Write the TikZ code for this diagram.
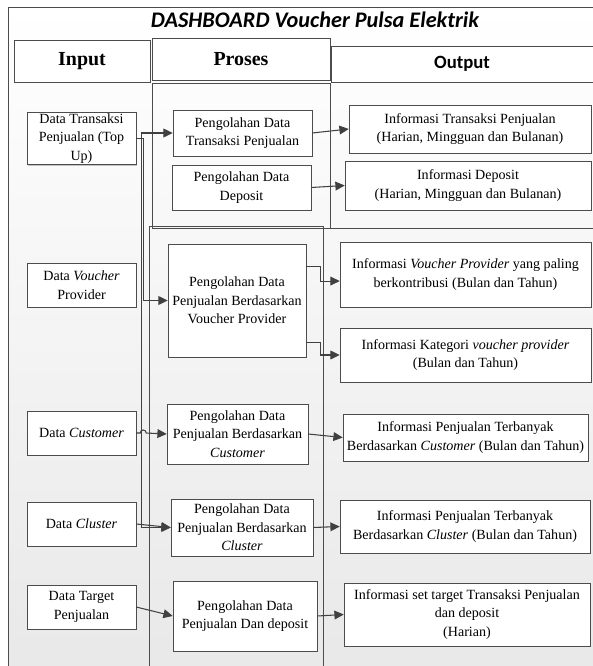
\documentclass[tikz,border=0pt]{standalone}
\usepackage{fontspec}
\setmainfont{Liberation Serif}
\newfontfamily\carlito{Carlito}
\usetikzlibrary{arrows.meta,calc,shadows}
\newcommand{\px}{0.03cm}
\tikzset{
  box/.style={draw=black!70, fill=white, align=center, inner sep=1pt,
    font=\fontsize{12}{15.8}\selectfont,
    drop shadow={shadow xshift=1.2pt, shadow yshift=-1.2pt, fill=black!45, opacity=0.5}},
  head/.style={draw=black!70, fill=white,
    drop shadow={shadow xshift=1.2pt, shadow yshift=-1.2pt, fill=black!45, opacity=0.5}},
  panel/.style={draw=black!70, line width=0.6pt},
  arr/.style={draw=black!75, line width=0.9pt, -{Triangle[length=8pt,width=7.5pt]}},
}
\begin{document}
\begin{tikzpicture}[x=0.03cm,y=-0.03cm]
\useasboundingbox (0,0) rectangle (593,666);

%%%Frame, background and title
\shade[top color=white,bottom color=black!9] (8,7) rectangle (600,680);
\draw[panel] (8,7) rectangle (600,680);
\node[draw=none,font=\carlito\bfseries\itshape\fontsize{19}{22}\selectfont] (title) at (315,20) {DASHBOARD Voucher Pulsa Elektrik};

%%%Column heads
\node[head, minimum width=136*\px, minimum height=42*\px, font=\bfseries\fontsize{17}{20}\selectfont] (hinput) at (82,61) {Input};
\node[head, minimum width=178*\px, minimum height=42*\px, font=\bfseries\fontsize{17}{20}\selectfont] (hproses) at (241,59) {Proses};
\node[head, minimum width=262*\px, minimum height=36*\px, font=\carlito\bfseries\fontsize{16}{19}\selectfont] (houtput) at (462,64) {Output};

%%%Proses panels
\draw[panel] (152,83) rectangle (330,228);
\draw[panel] (330,228) -- (600,228);
\draw[panel] (149,226) rectangle (323,680);

%%%Input
\begin{scope}
%Data boxes
\foreach \n/\y/\t in {dtrans/138.5/{Data Transaksi\\Penjualan (Top\\Up)},dvouch/285/{Data \textit{Voucher}\\Provider},dcust/433/{Data \textit{Customer}},dclust/524/{Data \textit{Cluster}},dtarget/607/{Data Target\\Penjualan}}
  \node[box, minimum width=109*\px, minimum height=44*\px] (\n) at (81.5,\y) {\t};
\end{scope}

%%%Proses
\begin{scope}
%Pengolahan boxes
\foreach \n/\x/\y/\w/\h/\t in {ptrans/242.5/133/139/46/{Pengolahan Data\\Transaksi Penjualan},pdepo/241.5/187.5/139/45/{Pengolahan Data\\Deposit},pvouch/237/300.5/138/113/{Pengolahan Data\\Penjualan Berdasarkan\\Voucher Provider},pcust/237.5/434/141/60/{Pengolahan Data\\Penjualan Berdasarkan\\\textit{Customer}},pclust/242/527.5/142/57/{Pengolahan Data\\Penjualan Berdasarkan\\\textit{Cluster}},ptarget/245/616/144/70/{Pengolahan Data\\Penjualan Dan deposit}}
  \node[box, minimum width=\w*\px, minimum height=\h*\px] (\n) at (\x,\y) {\t};
\end{scope}

%%%Output
\begin{scope}
%Informasi boxes
\foreach \n/\x/\y/\w/\h/\t in {otrans/470/129/242/48/{Informasi Transaksi Penjualan\\(Harian, Mingguan dan Bulanan)},odepo/468/185.5/246/49/{Informasi Deposit\\(Harian, Mingguan dan Bulanan)},ovouch/465.5/274.5/251/65/{Informasi \textit{Voucher Provider} yang paling\\berkontribusi (Bulan dan Tahun)},okat/465.5/355/251/54/{Informasi Kategori \textit{voucher provider}\\(Bulan dan Tahun)},ocust/465.5/437.5/245/47/{Informasi Penjualan Terbanyak\\Berdasarkan \textit{Customer} (Bulan dan Tahun)},oclust/465/526.5/250/53/{Informasi Penjualan Terbanyak\\Berdasarkan \textit{Cluster} (Bulan dan Tahun)},otarget/467/614.5/246/63/{Informasi set target Transaksi Penjualan\\dan deposit\\(Harian)}}
  \node[box, minimum width=\w*\px, minimum height=\h*\px] (\n) at (\x,\y) {\t};
\end{scope}

%%%Input to Proses
\draw[arr] (dtrans.east) -- ++(5,0) |- (ptrans.west);
\draw[arr] (dtrans.east) -- ++(7,0) |- (pvouch.west);
\draw[arr] (dtrans.east) -- ++(5,0) |- (pclust.west);
\draw[arr] (dcust.east) -- ++(4,0) arc[start angle=180,end angle=360,radius=3] -- (pcust.west);
\draw[arr] (dclust.east) -- (pclust.west);
\draw[arr] (dtarget.east) -- (ptarget.west);

%%%Proses to Output
\draw[arr] (ptrans.east) -- (otrans.west);
\draw[arr] (pdepo.east) -- (odepo.west);
\draw[arr] ($(pvouch.north east)!0.2!(pvouch.south east)$) -- ++(14,0) |- ($(ovouch.north west)!0.6!(ovouch.south west)$);
\draw[arr] ($(pvouch.north east)!0.87!(pvouch.south east)$) -- ++(14,0) |- (okat.west);
\draw[arr] (pcust.east) -- (ocust.west);
\draw[arr] (pclust.east) -- (oclust.west);
\draw[arr] (ptarget.east) -- (otarget.west);

\end{tikzpicture}
\end{document}
